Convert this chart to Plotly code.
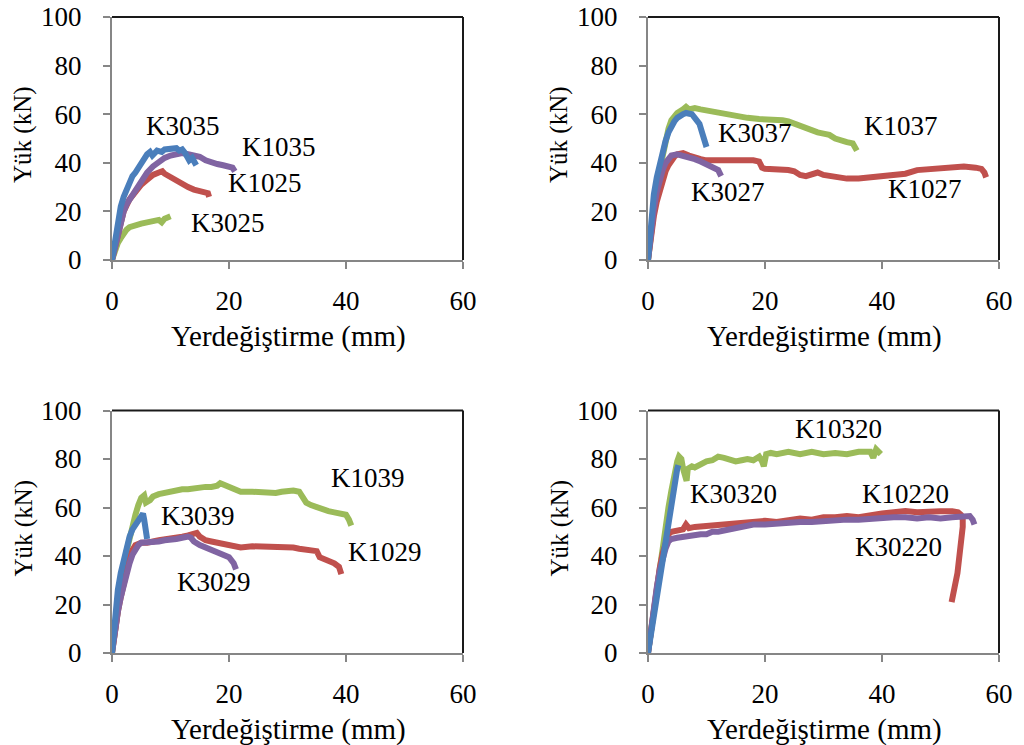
import plotly.graph_objects as go

# ---------------- data (displacement mm, load kN) ----------------
# Panel 1
k3035_x = [0, 0.5, 1, 1.5, 2, 2.5, 3, 3.5, 4, 4.5, 5, 5.5, 6, 6.5, 6.9, 7.7, 8.5, 9, 10, 11, 11.5, 12, 12.5, 13.2, 13.7, 14.1, 14.4]
k3035_y = [0, 8, 16, 22, 26, 29, 32, 34.5, 36, 38, 40, 42, 43.5, 44.5, 43, 45, 44.5, 45.5, 46, 46, 45, 45.5, 44, 41, 42, 40.5, 39]
k1025_x = [0, 1, 2, 3, 4, 5, 6, 7, 8, 8.6, 9, 10, 11, 12, 13, 14, 15, 16, 16.4, 16.6]
k1025_y = [0, 10, 20, 25, 28, 31, 33, 35, 36, 36.5, 35.5, 34, 32.5, 31, 30, 29, 28.5, 28, 27.5, 26]
k3025_x = [0, 0.5, 1, 1.5, 2, 2.5, 3, 4, 5, 6, 7, 7.5, 8, 8.5, 9, 9.5, 10]
k3025_y = [0, 4, 7, 9, 11, 12.5, 13.5, 14.5, 15, 15.5, 16, 16, 16.5, 15.5, 17, 17.5, 18]
k1035_x = [0, 0.5, 1, 1.5, 2, 2.5, 3, 4, 5, 6, 7, 8, 9, 10, 11, 12, 13, 14, 15, 16, 17, 18, 19, 20, 20.6, 21]
k1035_y = [0, 5, 11, 16, 20, 23, 25, 28, 32, 36, 38.5, 40.5, 42, 43, 43.5, 44, 43.5, 43, 42.5, 41, 40, 39.5, 39, 38.5, 38, 36.5]

# Panel 2
k3037_x = [0, 0.3, 0.7, 1, 1.5, 2, 2.5, 3, 3.5, 4, 4.5, 5, 5.5, 6, 6.5, 7, 7.5, 8, 8.8, 9.3, 9.7, 10]
k3037_y = [0, 10, 20, 27, 34, 40, 45, 49, 52.5, 55.5, 57, 58.5, 59.5, 60, 60.5, 60.5, 60, 58.5, 56, 52, 49, 46.5]
k1027_x = [0, 0.5, 1, 1.5, 2, 2.5, 3, 3.5, 4, 4.5, 5, 6, 7, 8, 9, 10, 12, 14, 16, 18, 19, 19.5, 20, 21, 22, 24, 25, 26, 27, 28, 29, 30, 31, 32, 34, 36, 38, 40, 42, 44, 46, 48, 50, 52, 54, 56, 57, 57.5, 57.8]
k1027_y = [0, 10, 18, 24, 29, 33, 36.5, 39, 41, 42.5, 43.5, 44, 43, 42, 41.5, 41, 41, 41.5, 41.5, 41, 40.5, 38, 37.5, 37.5, 37, 37, 36.5, 35, 34.5, 35.5, 36, 35, 34.5, 34, 33.5, 33.5, 34, 34.5, 35, 35.5, 37, 37.5, 38, 38.5, 38.5, 38, 37.5, 36, 34]
k1037_x = [0, 0.5, 1, 1.5, 2, 2.5, 3, 3.5, 4, 4.5, 5, 6, 6.5, 7, 8, 9, 10, 11, 12, 13, 14, 15, 17, 19, 21, 23, 24, 25, 26, 27, 28, 29, 30, 31, 32, 33, 34, 35, 35.5, 35.7]
k1037_y = [0, 12, 22, 30, 37, 43, 49, 54, 57.5, 59.5, 60.5, 62, 63, 62, 62.5, 62, 61.5, 61.5, 61, 60, 59.5, 59, 58.5, 58, 58, 57.5, 57, 56, 55, 54, 53, 52.5, 52, 51.5, 50, 49, 48.5, 48, 46, 45]
k3027_x = [0, 0.5, 1, 1.5, 2, 2.5, 3, 3.5, 4, 5, 6, 7, 8, 9, 10, 11, 12, 12.5]
k3027_y = [0, 12, 21, 28, 33, 37, 40, 42, 43, 43.5, 43, 42.5, 41.5, 40.5, 39.5, 38.5, 37, 34.5]

# Panel 3
k3039_x = [0, 0.3, 0.6, 1, 1.5, 2, 2.5, 3, 3.5, 4, 4.5, 5, 5.3, 5.5, 5.8, 6]
k3039_y = [0, 10, 18, 26, 33, 39, 44, 48, 51, 53, 55.5, 57.5, 57.5, 55, 50, 47]
k1029_x = [0, 0.5, 1, 1.5, 2, 2.5, 3, 3.5, 4, 5, 6, 8, 10, 12, 13, 14, 14.5, 15, 16, 17, 18, 19, 20, 21, 22, 24, 26, 28, 30, 31, 32, 33, 34, 35, 35.5, 36, 37, 38, 38.8, 39, 39.2]
k1029_y = [0, 10, 17, 23, 29, 34, 39, 42.5, 44.5, 45.5, 45.5, 46.5, 47, 48, 48.5, 49, 49.5, 48, 46.5, 46, 45.5, 45, 44.5, 43.5, 43.5, 44, 44, 44, 44, 43.5, 43, 42.5, 42.5, 42, 39.5, 39, 38.5, 37, 35.5, 33.5, 32.5]
k1039_x = [0, 0.5, 1, 1.5, 2, 2.5, 3, 3.5, 4, 4.5, 5, 5.5, 5.8, 6.5, 7, 8, 9, 10, 11, 12, 13, 14, 15, 16, 17, 18, 18.5, 19, 20, 21, 22, 24, 26, 28, 29, 30, 31, 32, 32.7, 33.2, 34, 35, 36, 37, 38, 39, 40, 40.5, 40.9]
k1039_y = [0, 10, 19, 27, 35, 42, 48, 54, 57, 61, 64, 65, 62, 63, 64.5, 65.5, 66, 67, 67, 67.5, 67.5, 68, 68, 68.5, 68.5, 69, 70, 69.5, 68, 67, 66.5, 66.5, 66, 66, 66.5, 67, 67, 66.5, 64, 62, 61, 60, 59.5, 58.5, 58, 57.5, 57, 55, 52.5]
k3029_x = [0, 0.5, 1, 1.5, 2, 2.5, 3, 3.5, 4, 4.5, 5, 6, 7, 8, 9, 10, 11, 12, 13, 13.5, 14, 15, 16, 17, 18, 19, 20, 20.8, 21.2]
k3029_y = [0, 10, 17, 23, 28.5, 33, 37, 40.5, 43, 44.5, 45.5, 45.5, 46, 46, 46.5, 46.5, 47, 47.5, 48, 47.5, 46, 44.5, 43.5, 42.5, 41.5, 41, 39.5, 37, 34.5]

# Panel 4
k30320_x = [0, 0.5, 1, 1.5, 2, 2.5, 3, 3.5, 4, 4.5, 5, 5.2]
k30320_y = [0, 8, 16, 24, 32, 40, 48, 56, 64, 71, 76, 77.5]
k10220_x = [0, 0.5, 1, 1.5, 2, 2.5, 3, 3.5, 4, 5, 6, 6.5, 7, 8, 10, 12, 14, 16, 18, 20, 22, 24, 26, 28, 30, 32, 34, 36, 38, 40, 42, 44, 46, 48, 50, 52, 53, 53.5, 53.8, 53.8, 53.6, 53.3, 52.9, 52.4, 51.9]
k10220_y = [0, 10, 20, 28, 35, 41, 46, 49, 50, 50.5, 51, 53, 51.5, 52, 52.5, 53, 53.5, 54, 54.5, 54.5, 54, 55, 55.5, 55, 56, 56, 56.5, 56, 57, 57.5, 58, 58.5, 58, 58.5, 58.5, 58.5, 58, 57, 55, 52, 47, 40, 33, 27, 21]
k10320_x = [0, 0.5, 1, 1.5, 2, 2.5, 3, 3.5, 4, 4.5, 5, 5.3, 5.7, 6, 6.3, 6.6, 6.8, 7.5, 8, 9, 10, 11, 12, 13, 14, 15, 16, 17, 18, 19, 19.5, 19.8, 20.2, 21, 22, 24, 26, 28, 30, 32, 34, 36, 38, 38.5, 39, 39.8]
k10320_y = [0, 9, 18, 27, 35, 44, 52, 60, 67, 74, 79, 81, 80, 76, 73, 71, 76, 77, 76.5, 78, 79, 79.5, 81, 80.5, 80, 79, 79.5, 80, 79.5, 81, 79, 77, 82, 82.5, 82, 83, 82, 83, 82, 82.5, 82, 83, 83, 80.5, 84, 82]
k30220_x = [0, 0.5, 1, 1.5, 2, 2.5, 3, 3.5, 4, 5, 6, 7, 8, 9, 10, 11, 12, 14, 15, 16, 18, 20, 22, 24, 26, 28, 30, 32, 34, 36, 38, 40, 42, 44, 46, 48, 50, 52, 54, 55, 55.5, 55.8]
k30220_y = [0, 10, 19, 27, 34, 39, 43, 46, 47, 47.5, 48, 48, 48.5, 49, 49, 50, 50, 51, 52, 52.5, 53, 53, 53.5, 54, 54, 54, 54.5, 54.5, 55, 55, 55.5, 55.5, 56, 56, 55.5, 56, 55.5, 56, 56, 56.5, 55, 53]

# labels: (text, x, y)
labels_1 = [("K3035", 12.1, 55.1), ("K1035", 28.6, 46.3), ("K1025", 26.1, 31.7), ("K3025", 19.8, 15.2)]
labels_2 = [("K3037", 18.3, 52.3), ("K1037", 43.3, 55.1), ("K3027", 13.7, 27.8), ("K1027", 47.3, 29.2)]
labels_3 = [("K1039", 43.8, 72.3), ("K3039", 14.7, 56.6), ("K1029", 46.6, 41.6), ("K3029", 17.5, 29.3)]
labels_4 = [("K10320", 32.5, 92.2), ("K30320", 14.7, 65.6), ("K10220", 44.0, 65.6), ("K30220", 42.9, 43.6)]

x_ticks = [0, 20, 40, 60]
y_ticks = [0, 20, 40, 60, 80, 100]
x_title = "Yerdeğiştirme (mm)"
y_title = "Yük (kN)"

BLUE = "#4A7EBB"
RED = "#C0504D"
GREEN = "#9BBB59"
PURPLE = "#8064A2"

FONT = "'Liberation Serif', 'DejaVu Serif', serif"

panels = [
    ("x", "y", [(k3025_x, k3025_y, GREEN), (k1025_x, k1025_y, RED), (k1035_x, k1035_y, PURPLE), (k3035_x, k3035_y, BLUE)], labels_1),
    ("x2", "y2", [(k1037_x, k1037_y, GREEN), (k1027_x, k1027_y, RED), (k3027_x, k3027_y, PURPLE), (k3037_x, k3037_y, BLUE)], labels_2),
    ("x3", "y3", [(k1039_x, k1039_y, GREEN), (k1029_x, k1029_y, RED), (k3029_x, k3029_y, PURPLE), (k3039_x, k3039_y, BLUE)], labels_3),
    ("x4", "y4", [(k10320_x, k10320_y, GREEN), (k10220_x, k10220_y, RED), (k30220_x, k30220_y, PURPLE), (k30320_x, k30320_y, BLUE)], labels_4),
]

fig = go.Figure()
annotations = []
shapes = []
for xa, ya, series, labels in panels:
    for sx, sy, col in series:
        fig.add_trace(go.Scatter(x=sx, y=sy, mode="lines", xaxis=xa, yaxis=ya,
                                 line=dict(color=col, width=6), showlegend=False, hoverinfo="skip"))
    for t, lx, ly in labels:
        annotations.append(dict(text=t, x=lx, y=ly, xref=xa, yref=ya, showarrow=False,
                                font=dict(family=FONT, size=27, color="#000000"),
                                xanchor="center", yanchor="middle"))
    shapes.append(dict(type="line", xref=xa + " domain", yref=ya + " domain", x0=0, x1=1, y0=1, y1=1,
                       line=dict(color="#1a1a1a", width=2)))
    shapes.append(dict(type="line", xref=xa + " domain", yref=ya + " domain", x0=1, x1=1, y0=0, y1=1,
                       line=dict(color="#1a1a1a", width=2)))

xdom_left = [112 / 1024, 463 / 1024]
xdom_right = [648 / 1024, 999 / 1024]
ydom_top = [1 - 260 / 745, 1 - 17 / 745]
ydom_bot = [1 - 653 / 745, 1 - 410.5 / 745]

def xaxis(dom, anchor):
    return dict(domain=dom, anchor=anchor, range=[0, 60], tickvals=x_ticks, ticks="outside", ticklen=7,
                tickwidth=1.5, tickcolor="#868686", showline=True, linecolor="#868686", linewidth=2,
                showgrid=False, zeroline=False, ticklabelstandoff=9, automargin=False,
                tickfont=dict(family=FONT, size=27, color="#000000"))

def yaxis(dom, anchor):
    return dict(domain=dom, anchor=anchor, range=[0, 100], tickvals=y_ticks, ticks="outside", ticklen=7,
                tickwidth=1.5, tickcolor="#868686", showline=True, linecolor="#868686", linewidth=2,
                showgrid=False, zeroline=False, ticklabelstandoff=16, automargin=False,
                tickfont=dict(family=FONT, size=27, color="#000000"))

title_pos_x = [(288, 336), (824, 336), (288, 729), (824, 729)]
title_pos_y = [(23, 135), (559, 135), (23, 528.5), (559, 528.5)]
for px, py in title_pos_x:
    annotations.append(dict(text=x_title, x=px / 1024, y=1 - py / 745, xref="paper", yref="paper",
                            showarrow=False, font=dict(family=FONT, size=29, color="#000000"),
                            xanchor="center", yanchor="middle"))
for px, py in title_pos_y:
    annotations.append(dict(text=y_title, x=px / 1024, y=1 - py / 745, xref="paper", yref="paper",
                            showarrow=False, textangle=-90, font=dict(family=FONT, size=25, color="#000000"),
                            xanchor="center", yanchor="middle"))

fig.update_layout(
    template="none",
    width=1024, height=745, margin=dict(l=0, r=0, t=0, b=0, autoexpand=False),
    paper_bgcolor="white", plot_bgcolor="white",
    font=dict(family=FONT),
    xaxis=xaxis(xdom_left, "y"), yaxis=yaxis(ydom_top, "x"),
    xaxis2=xaxis(xdom_right, "y2"), yaxis2=yaxis(ydom_top, "x2"),
    xaxis3=xaxis(xdom_left, "y3"), yaxis3=yaxis(ydom_bot, "x3"),
    xaxis4=xaxis(xdom_right, "y4"), yaxis4=yaxis(ydom_bot, "x4"),
    annotations=annotations, shapes=shapes,
)

fig.write_html("out.html")
